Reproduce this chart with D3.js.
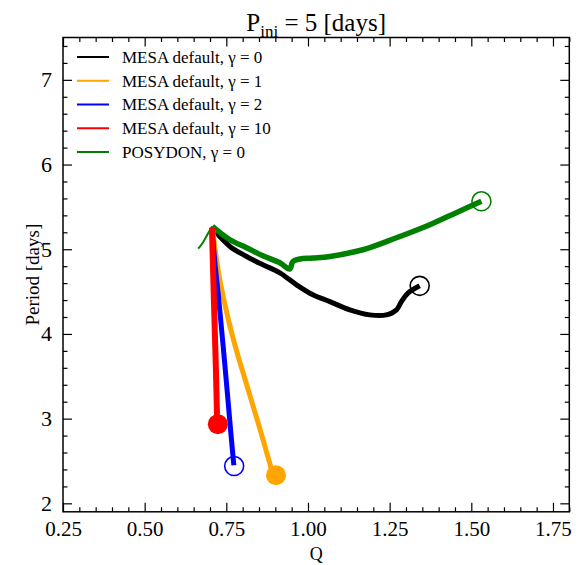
<!DOCTYPE html>
<html>
<head>
<meta charset="utf-8">
<script src="https://cdn.jsdelivr.net/npm/d3@7"></script>
<style>
  body { margin: 0; background: #fff; }
  svg { display: block; }
  text { font-family: "Liberation Serif", "DejaVu Serif", serif; fill: #000; }
</style>
</head>
<body>
<svg id="chart" width="580" height="565"></svg>
<script>
// ---- data ----
const xTicks = [0.25, 0.50, 0.75, 1.00, 1.25, 1.50, 1.75];
const yTicks = [2, 3, 4, 5, 6, 7];

const blackQ = [0.706, 0.761, 0.812, 0.862, 0.914, 0.965, 1.015, 1.067, 1.128, 1.189, 1.240, 1.271, 1.286, 1.306, 1.342];
const blackP = [5.254, 5.033, 4.915, 4.817, 4.722, 4.580, 4.462, 4.382, 4.284, 4.225, 4.225, 4.284, 4.382, 4.482, 4.568];

const greenPreQ = [0.664, 0.678, 0.690, 0.707];
const greenPreP = [5.006, 5.077, 5.160, 5.270];
const greenQ = [0.707, 0.761, 0.812, 0.862, 0.914, 0.944, 0.954, 0.975, 1.015, 1.067, 1.168, 1.271, 1.373, 1.454, 1.531];
const greenP = [5.270, 5.112, 5.018, 4.923, 4.840, 4.766, 4.856, 4.884, 4.896, 4.915, 4.994, 5.136, 5.290, 5.432, 5.566];

const orangeQ = [0.707, 0.718, 0.730, 0.746, 0.764, 0.785, 0.808, 0.831, 0.854, 0.876, 0.889];
const orangeP = [5.254, 4.935, 4.639, 4.343, 4.047, 3.751, 3.456, 3.160, 2.864, 2.568, 2.391];

const blueQ = [0.706, 0.716, 0.727, 0.746, 0.764, 0.773];
const blueP = [5.254, 4.800, 4.402, 3.613, 2.825, 2.450];

const redQ = [0.706, 0.712, 0.718, 0.722];
const redP = [5.254, 4.400, 3.600, 2.950];

// end markers: [Q, P]
const blackEnd = [1.342, 4.568];
const greenEnd = [1.531, 5.566];
const orangeEnd = [0.902, 2.331];
const blueEnd = [0.774, 2.440];
const redEnd = [0.724, 2.935];

const legendLabels = ["MESA default, \u03B3 = 0", "MESA default, \u03B3 = 1", "MESA default, \u03B3 = 2", "MESA default, \u03B3 = 10", "POSYDON, \u03B3 = 0"];
const legendColors = ["#000000", "#FFA500", "#0000FF", "#FF0000", "#008000"];

// ---- layout ----
const svg = d3.select("#chart");
const L = 63, R = 569.3, T = 37.5, B = 511.8;
const x = d3.scaleLinear().domain([0.25, 1.8]).range([L, R]);
const y = d3.scaleLinear().domain([1.9, 7.5]).range([B, T]);

const xMinor = d3.range(0.25, 1.8001, 0.05).filter(v => Math.abs(Math.round(v * 4) - v * 4) > 1e-6);
const yMinor = d3.range(2.0, 7.5001, 0.2).filter(v => Math.abs(Math.round(v) - v) > 1e-6);

function styleAxis(g) {
  g.select(".domain").remove();
  g.selectAll(".tick line").attr("stroke", "#000").attr("stroke-width", 1.2);
}

// bottom
svg.append("g").attr("transform", `translate(0,${B})`)
  .call(d3.axisBottom(x).tickValues(xTicks).tickSize(-9).tickPadding(9).tickFormat(d3.format(".2f")))
  .call(styleAxis)
  .selectAll("text").style("font-size", "21px").style("font-family", "Liberation Serif, serif");
svg.append("g").attr("transform", `translate(0,${B})`)
  .call(d3.axisBottom(x).tickValues(xMinor).tickSize(-4.5).tickFormat(""))
  .call(styleAxis);
// top
svg.append("g").attr("transform", `translate(0,${T})`)
  .call(d3.axisTop(x).tickValues(xTicks).tickSize(-9).tickFormat(""))
  .call(styleAxis);
svg.append("g").attr("transform", `translate(0,${T})`)
  .call(d3.axisTop(x).tickValues(xMinor).tickSize(-4.5).tickFormat(""))
  .call(styleAxis);
// left
svg.append("g").attr("transform", `translate(${L},0)`)
  .call(d3.axisLeft(y).tickValues(yTicks).tickSize(-9).tickPadding(11).tickFormat(d3.format("d")))
  .call(styleAxis)
  .selectAll("text").style("font-size", "22px").style("font-family", "Liberation Serif, serif");
svg.append("g").attr("transform", `translate(${L},0)`)
  .call(d3.axisLeft(y).tickValues(yMinor).tickSize(-4.5).tickFormat(""))
  .call(styleAxis);
// right
svg.append("g").attr("transform", `translate(${R},0)`)
  .call(d3.axisRight(y).tickValues(yTicks).tickSize(-9).tickFormat(""))
  .call(styleAxis);
svg.append("g").attr("transform", `translate(${R},0)`)
  .call(d3.axisRight(y).tickValues(yMinor).tickSize(-4.5).tickFormat(""))
  .call(styleAxis);

// clip
svg.append("clipPath").attr("id", "clip").append("rect")
  .attr("x", L).attr("y", T).attr("width", R - L).attr("height", B - T);
const plot = svg.append("g").attr("clip-path", "url(#clip)");

const line = d3.line().x(d => x(d[0])).y(d => y(d[1])).curve(d3.curveCatmullRom.alpha(0.5));
function zip(a, b) { return a.map((v, i) => [v, b[i]]); }
function drawLine(Q, P, color, w) {
  plot.append("path").datum(zip(Q, P))
    .attr("d", line).attr("fill", "none").attr("stroke", color)
    .attr("stroke-width", w).attr("stroke-linejoin", "round").attr("stroke-linecap", "butt");
}
function marker(pt, color, filled) {
  plot.append("circle").attr("cx", x(pt[0])).attr("cy", y(pt[1])).attr("r", filled ? 10 : 9.5)
    .attr("fill", filled ? color : "none").attr("stroke", color).attr("stroke-width", filled ? 0 : 1.6);
}

drawLine(blackQ, blackP, "#000000", 5);
drawLine(greenPreQ, greenPreP, "#008000", 2);
drawLine(greenQ, greenP, "#008000", 5.5);
drawLine(orangeQ, orangeP, "#FFA500", 5);
drawLine(blueQ, blueP, "#0000FF", 5);
drawLine(redQ, redP, "#FF0000", 6);

marker(blackEnd, "#000000", false);
marker(greenEnd, "#008000", false);
marker(orangeEnd, "#FFA500", true);
marker(blueEnd, "#0000FF", false);
marker(redEnd, "#FF0000", true);

// frame
svg.append("rect").attr("x", L).attr("y", T).attr("width", R - L).attr("height", B - T)
  .attr("fill", "none").attr("stroke", "#000").attr("stroke-width", 1.5);

// legend
const lg = svg.append("g");
legendLabels.forEach((lab, i) => {
  const yy = 57 + i * 23.75;
  lg.append("line").attr("x1", 77).attr("x2", 109).attr("y1", yy).attr("y2", yy)
    .attr("stroke", legendColors[i]).attr("stroke-width", 2);
  lg.append("text").attr("x", 122).attr("y", yy).attr("dy", "0.35em")
    .style("font-size", "17px").text(lab);
});

// title
const title = svg.append("text").attr("x", (L + R) / 2).attr("y", 31)
  .attr("text-anchor", "middle").style("font-size", "25px");
title.append("tspan").text("P");
title.append("tspan").attr("dy", 6).style("font-size", "17px").text("ini");
title.append("tspan").attr("dy", -6).text(" = 5 [days]");

// axis labels
svg.append("text").attr("x", (L + R) / 2).attr("y", 560).attr("text-anchor", "middle")
  .style("font-size", "18px").text("Q");
svg.append("text").attr("transform", `translate(39,${(T + B) / 2}) rotate(-90)`)
  .attr("text-anchor", "middle").style("font-size", "19px").text("Period [days]");
</script>
</body>
</html>
